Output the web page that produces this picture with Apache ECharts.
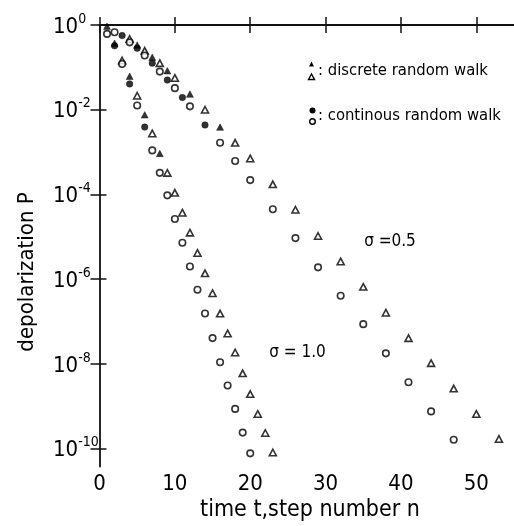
<!DOCTYPE html>
<html><head><meta charset="utf-8">
<script src="https://cdn.jsdelivr.net/npm/echarts@6/dist/echarts.min.js"></script>
<style>html,body{margin:0;padding:0;background:#fff}#c{width:514px;height:526px}</style>
</head><body><div id="c"></div>
<script>
// ---------- data (n = step number, logP = log10 of depolarization P) ----------
const xTickValues = [0, 10, 20, 30, 40, 50];
const yTickExponents = [0, -2, -4, -6, -8, -10];

// sigma = 1.0, discrete random walk (triangles)
const s1DiscFilledN    = [1, 2, 4, 6, 8];
const s1DiscFilledLogP = [-0.03, -0.43, -1.21, -2.12, -3.03];
const s1DiscOpenN      = [3, 5, 7, 9, 10, 11, 12, 13, 14, 15, 16, 17, 18, 19, 20, 21, 22, 23];
const s1DiscOpenLogP   = [-0.84, -1.67, -2.56, -3.49, -3.96, -4.43, -4.90, -5.38, -5.86, -6.33, -6.81, -7.28, -7.73, -8.22, -8.71, -9.18, -9.63, -10.09];

// sigma = 1.0, continuous random walk (circles)
const s1ContFilledN    = [2, 4, 6];
const s1ContFilledLogP = [-0.49, -1.39, -2.41];
const s1ContOpenN      = [1, 3, 5, 7, 8, 9, 10, 11, 12, 13, 14, 15, 16, 17, 18, 19, 20];
const s1ContOpenLogP   = [-0.21, -0.92, -1.90, -2.96, -3.49, -4.02, -4.58, -5.14, -5.70, -6.25, -6.81, -7.39, -7.96, -8.51, -9.06, -9.62, -10.11];

// sigma = 0.5, discrete random walk (triangles)
const s05DiscFilledN    = [5, 7, 9, 12, 16];
const s05DiscFilledLogP = [-0.47, -0.76, -1.08, -1.63, -2.41];
const s05DiscOpenN      = [4, 6, 8, 10, 14, 18, 20, 23, 26, 29, 32, 35, 38, 41, 44, 47, 50, 53];
const s05DiscOpenLogP   = [-0.33, -0.61, -0.90, -1.25, -2.00, -2.78, -3.15, -3.76, -4.36, -4.98, -5.58, -6.18, -6.79, -7.39, -7.98, -8.58, -9.18, -9.77];

// sigma = 0.5, continuous random walk (circles)
const s05ContFilledN    = [3, 5, 7, 9, 11, 14];
const s05ContFilledLogP = [-0.25, -0.55, -0.90, -1.30, -1.71, -2.36];
const s05ContOpenN      = [2, 4, 6, 8, 10, 12, 16, 18, 20, 23, 26, 29, 32, 35, 38, 41, 44, 47];
const s05ContOpenLogP   = [-0.17, -0.41, -0.72, -1.10, -1.49, -1.92, -2.78, -3.21, -3.66, -4.35, -5.03, -5.72, -6.39, -7.06, -7.75, -8.43, -9.12, -9.79];

// ---------- chart ----------
const FONT_NUM = '"Liberation Sans Narrow", "DejaVu Sans Condensed", "DejaVu Sans", sans-serif';
const FONT_TXT = '"DejaVu Sans Condensed", "DejaVu Sans", sans-serif';
const pts = (ns, logs) => ns.map((n, i) => [n, -logs[i]]);

function scatter(name, ns, logs, symbol, filled) {
  return {
    name, type: 'scatter', symbol,
    symbolSize: symbol === 'triangle' ? [7, 6.5] : 6.5,
    clip: false,
    data: pts(ns, logs),
    itemStyle: filled ? { color: '#000', borderColor: '#000', borderWidth: 0.5 }
                      : { color: '#fff', borderColor: '#000', borderWidth: 1.6 },
    emphasis: { disabled: true }
  };
}

const chart = echarts.init(document.getElementById('c'), null, { renderer: 'canvas' });
const axisLineStyle = { color: '#111', width: 1.8 };
const tickStyle = { color: '#111', width: 1.5 };

chart.setOption({
  animation: false,
  backgroundColor: '#fff',
  grid: { left: 99.5, top: 25, width: 418.5, height: 441.5, containLabel: false },
  xAxis: [
    { type: 'value', position: 'bottom', min: 0, max: 55, interval: 10,
      axisLine: { show: true, lineStyle: axisLineStyle },
      axisTick: { show: true, inside: true, length: 8, lineStyle: tickStyle, customValues: xTickValues },
      axisLabel: { show: true, margin: 7, fontSize: 22, color: '#000', fontFamily: FONT_NUM,
                   customValues: xTickValues },
      splitLine: { show: false } },
    { type: 'value', position: 'top', min: 0, max: 55, interval: 10,
      axisLine: { show: true, lineStyle: axisLineStyle },
      axisTick: { show: true, inside: true, length: 8, lineStyle: tickStyle, customValues: xTickValues },
      axisLabel: { show: false }, splitLine: { show: false } }
  ],
  yAxis: [
    { type: 'value', position: 'left', inverse: true, min: 0, max: 10.42, interval: 2,
      axisLine: { show: true, lineStyle: axisLineStyle },
      axisTick: { show: true, inside: true, length: 7, lineStyle: tickStyle,
                  customValues: yTickExponents.map(e => -e) },
      axisLabel: {
        show: true, align: 'left', margin: 46.5, color: '#000',
        customValues: yTickExponents.map(e => -e),
        formatter: v => '{b|10}{s|' + (v === 0 ? '0' : '-' + v) + '}',
        rich: {
          b: { fontSize: 22, fontFamily: FONT_NUM, color: '#000', lineHeight: 26, verticalAlign: 'bottom' },
          s: { fontSize: 14, fontFamily: FONT_NUM, color: '#000', lineHeight: 16, verticalAlign: 'top' }
        }
      },
      splitLine: { show: false } },
    { type: 'value', position: 'right', inverse: true, min: 0, max: 10.42, interval: 2,
      axisLine: { show: false },
      axisTick: { show: true, inside: true, length: 9, lineStyle: tickStyle,
                  customValues: yTickExponents.map(e => -e) },
      axisLabel: { show: false }, splitLine: { show: false } }
  ],
  series: [
    scatter('s1 disc filled', s1DiscFilledN, s1DiscFilledLogP, 'triangle', true),
    scatter('s1 disc open', s1DiscOpenN, s1DiscOpenLogP, 'triangle', false),
    scatter('s1 cont filled', s1ContFilledN, s1ContFilledLogP, 'circle', true),
    scatter('s1 cont open', s1ContOpenN, s1ContOpenLogP, 'circle', false),
    scatter('s05 disc filled', s05DiscFilledN, s05DiscFilledLogP, 'triangle', true),
    scatter('s05 disc open', s05DiscOpenN, s05DiscOpenLogP, 'triangle', false),
    scatter('s05 cont filled', s05ContFilledN, s05ContFilledLogP, 'circle', true),
    scatter('s05 cont open', s05ContOpenN, s05ContOpenLogP, 'circle', false)
  ],
  graphic: [
    { type: 'text', x: 27, y: 272, rotation: Math.PI / 2,
      style: { text: 'depolarization P', font: '22px ' + FONT_TXT, fill: '#000',
               textAlign: 'center', textVerticalAlign: 'middle' } },
    { type: 'text', x: 310, y: 510,
      style: { text: 'time t,step number n', font: '23px ' + FONT_TXT, fill: '#000',
               textAlign: 'center', textVerticalAlign: 'middle' } },
    // legend
    { type: 'polygon', shape: { points: [[311.5, 61.5], [309, 66.5], [314, 66.5]] }, style: { fill: '#000' } },
    { type: 'polygon', shape: { points: [[311.5, 74], [308.5, 79.5], [314.5, 79.5]] }, style: { fill: '#fff', stroke: '#000', lineWidth: 1.4 } },
    { type: 'text', x: 318, y: 71, style: { text: ': discrete random walk', font: '16.5px ' + FONT_TXT, fill: '#000', textAlign: 'left', textVerticalAlign: 'middle' } },
    { type: 'circle', shape: { cx: 312.5, cy: 110.5, r: 3 }, style: { fill: '#000' } },
    { type: 'circle', shape: { cx: 312.5, cy: 121.5, r: 2.8 }, style: { fill: '#fff', stroke: '#000', lineWidth: 1.4 } },
    { type: 'text', x: 318, y: 116, style: { text: ': continous random walk', font: '16.5px ' + FONT_TXT, fill: '#000', textAlign: 'left', textVerticalAlign: 'middle' } },
    // sigma labels
    { type: 'text', x: 390, y: 242, style: { text: 'σ =0.5', font: '17px ' + FONT_NUM, fill: '#000', textAlign: 'center', textVerticalAlign: 'middle' } },
    { type: 'text', x: 297.5, y: 353, style: { text: 'σ = 1.0', font: '17px ' + FONT_NUM, fill: '#000', textAlign: 'center', textVerticalAlign: 'middle' } }
  ]
});
</script></body></html>
